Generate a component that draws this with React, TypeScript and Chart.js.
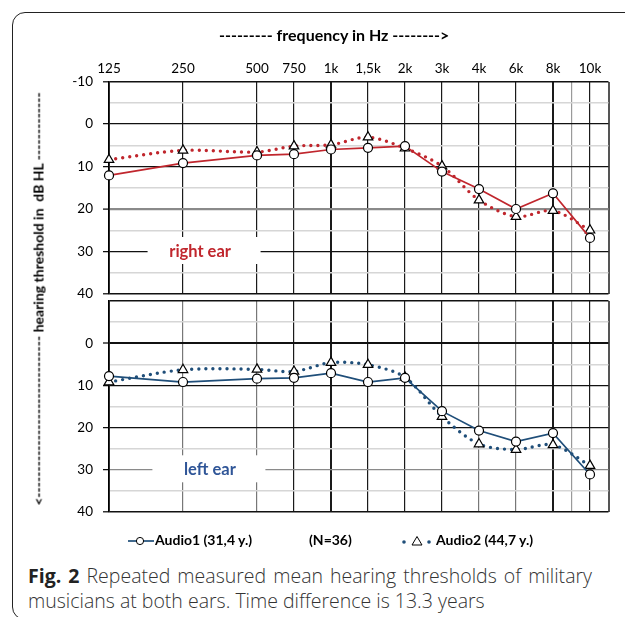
import React, { useEffect, useRef } from 'react';
import { Chart, registerables } from 'chart.js';

Chart.register(...registerables);

// ---- data ----
const freqLabels = ['125', '250', '500', '750', '1k', '1,5k', '2k', '3k', '4k', '6k', '8k', '10k'];
const freqPos = [0, 2, 4, 5, 6, 7, 8, 9, 10, 11, 12, 13];
const gridPos = [0, 2, 4, 5, 6, 7, 8, 9, 10, 11, 12, 12.5, 13, 13.5];
const rightAudio1 = [12.1, 9.2, 7.4, 7.1, 6.0, 5.6, 5.2, 11.2, 15.3, 20.0, 16.3, 26.8];
const rightAudio2 = [8.4, 6.2, 6.6, 5.2, 4.9, 3.1, 5.7, 9.9, 17.9, 21.8, 20.4, 25.0];
const leftAudio1 = [7.8, 9.2, 8.4, 8.2, 7.1, 9.2, 8.2, 16.1, 20.7, 23.3, 21.3, 31.1];
const leftAudio2 = [9.2, 6.3, 6.2, 6.7, 4.6, 5.1, 8.1, 17.4, 23.9, 25.2, 24.1, 29.0];
const yMin = -10;
const yMax = 40;
const yStep = 5;

const RED = '#c0262d';
const BLUE = '#1f4e79';
const LABEL_BLUE = '#2f5597';

const earLabelPlugin = {
  id: 'earLabel',
  afterDraw(chart: any, _args: any, opts: any) {
    const { ctx } = chart;
    const x = chart.scales.x;
    const y = chart.scales.y;
    const cx = x.getPixelForValue(opts.xValue);
    const cy = y.getPixelForValue(opts.yValue);
    ctx.save();
    ctx.fillStyle = '#fff';
    ctx.fillRect(cx - opts.boxW / 2, cy - opts.boxH / 2 - 1, opts.boxW, opts.boxH);
    ctx.fillStyle = opts.color;
    ctx.font = 'bold 16.5px Lato';
    ctx.textAlign = 'center';
    ctx.textBaseline = 'middle';
    ctx.fillText(opts.text, cx + opts.dx, cy);
    ctx.restore();
  },
};

function toPoints(vals: number[]) {
  return vals.map((v, i) => ({ x: freqPos[i], y: v }));
}

function zeroPad(s: any) {
  s.paddingTop = 0;
  s.paddingBottom = 0;
  s.paddingLeft = 0;
  s.paddingRight = 0;
}

function buildConfig(p: {
  a1: number[];
  a2: number[];
  color: string;
  showX: boolean;
  top: boolean;
  text: string;
  textColor: string;
  labelX: number;
  dx: number;
  pad: any;
  xH: number;
}): any {
  return {
    type: 'line',
    data: {
      datasets: [
        {
          label: 'Audio1',
          data: toPoints(p.a1),
          borderColor: p.color,
          borderWidth: 1.7,
          tension: 0,
          pointStyle: 'circle',
          pointRadius: 4.5,
          pointBackgroundColor: '#fff',
          pointBorderColor: '#000',
          pointBorderWidth: 1.2,
          clip: false,
        },
        {
          label: 'Audio2',
          data: toPoints(p.a2),
          borderColor: p.color,
          borderWidth: 3.4,
          borderDash: [0, 7],
          borderCapStyle: 'round',
          tension: 0.3,
          pointStyle: 'triangle',
          pointRadius: 5.5,
          pointBackgroundColor: '#fff',
          pointBorderColor: '#000',
          pointBorderWidth: 1.2,
          clip: false,
        },
      ],
    },
    options: {
      animation: false,
      responsive: false,
      events: [],
      layout: { padding: p.pad, autoPadding: false },
      plugins: {
        legend: { display: false },
        tooltip: { enabled: false },
        earLabel: { xValue: p.labelX, yValue: 30, boxW: 113, boxH: 27, text: p.text, color: p.textColor, dx: p.dx },
      },
      scales: {
        x: {
          type: 'linear',
          position: 'top',
          min: 0,
          max: 13.5,
          afterBuildTicks: (s: any) => {
            s.ticks = gridPos.map((v) => ({ value: v }));
          },
          afterFit: (s: any) => {
            s.height = p.xH;
            zeroPad(s);
          },
          ticks: {
            display: p.showX,
            autoSkip: false,
            maxRotation: 0,
            padding: 5,
            color: '#000',
            font: { size: 13.5, family: 'Lato' },
            callback: (v: number) => {
              const i = freqPos.indexOf(v);
              return i >= 0 ? freqLabels[i] : '';
            },
          },
          grid: {
            drawTicks: false,
            color: (c: any) => {
              const v = c.tick?.value;
              if (v === 12.5) return '#9a9a9a';
              if (v === 13.5) return '#555';
              if (!p.top && (v === 2 || v === 4 || v === 10 || v === 11)) return '#777';
              return '#1a1a1a';
            },
            lineWidth: (c: any) => {
              const v = c.tick?.value;
              if (v === 6 || v === 12 || v === 13.5) return 2;
              return 1.2;
            },
          },
          border: { display: false },
        },
        y: {
          type: 'linear',
          reverse: true,
          min: yMin,
          max: yMax,
          afterFit: (s: any) => {
            s.width = 109;
            zeroPad(s);
          },
          ticks: {
            stepSize: yStep,
            padding: 10,
            color: '#000',
            font: { size: 13.5, family: 'Lato' },
            callback: (v: number) => {
              if (v % 10 !== 0) return '';
              if (!p.top && v === yMin) return '';
              return String(v);
            },
          },
          grid: {
            tickLength: 6,
            tickWidth: 1.2,
            tickColor: (c: any) => {
              const v = c.tick?.value;
              if (v % 10 !== 0) return 'rgba(0,0,0,0)';
              if (!p.top && v === yMin) return 'rgba(0,0,0,0)';
              return '#000';
            },
            color: (c: any) => {
              const v = c.tick?.value;
              if (v % 10 !== 0) return '#d6d6d6';
              if (p.top && v === 20) return '#8a8a8a';
              if (!p.top && v === 30) return '#8a8a8a';
              return '#111';
            },
            lineWidth: (c: any) => {
              const v = c.tick?.value;
              if (v % 10 !== 0) return 1.5;
              if (p.top && v === 20) return 2.2;
              if (!p.top && v === 0) return 2;
              if (v === yMin || v === yMax) return 1.6;
              return 1.3;
            },
          },
          border: { display: true, color: '#000', width: 1.8 },
        },
      },
    },
    plugins: [earLabelPlugin],
  };
}

export default function App() {
  const topRef = useRef<HTMLCanvasElement>(null);
  const botRef = useRef<HTMLCanvasElement>(null);

  useEffect(() => {
    Chart.defaults.font.family = 'Lato';
    const c1 = new Chart(
      topRef.current as HTMLCanvasElement,
      buildConfig({
        a1: rightAudio1,
        a2: rightAudio2,
        color: RED,
        showX: true,
        top: true,
        text: 'right ear',
        textColor: RED,
        labelX: 2.57,
        dx: -4,
        pad: { left: 0, right: 16.5, top: 0, bottom: 6 },
        xH: 81.5,
      })
    );
    const c2 = new Chart(
      botRef.current as HTMLCanvasElement,
      buildConfig({
        a1: leftAudio1,
        a2: leftAudio2,
        color: BLUE,
        showX: false,
        top: false,
        text: 'left ear',
        textColor: LABEL_BLUE,
        labelX: 2.7,
        dx: 1,
        pad: { left: 0, right: 16.5, top: 5, bottom: 6 },
        xH: 0,
      })
    );
    return () => {
      c1.destroy();
      c2.destroy();
    };
  }, []);

  return (
    <div style={{ position: 'absolute', left: 0, top: 0, width: 625, height: 617, overflow: 'hidden', background: '#fff', fontFamily: 'Lato' }}>
      <div
        style={{
          position: 'absolute',
          left: 12,
          top: 12,
          width: 660,
          height: 606,
          border: '1.6px solid #222',
          borderRadius: 13,
        }}
      />
      <canvas ref={topRef} width={625} height={300} style={{ position: 'absolute', left: 0, top: 0, width: 625, height: 300 }} />
      <canvas ref={botRef} width={625} height={222} style={{ position: 'absolute', left: 0, top: 296, width: 625, height: 222 }} />
      <div
        style={{
          position: 'absolute',
          left: 219,
          top: 25,
          whiteSpace: 'nowrap',
          font: 'bold 16px Lato',
          color: '#000',
        }}
      >
        --------- frequency in Hz --------&gt;
      </div>
      <div
        style={{
          position: 'absolute',
          left: 38,
          top: 299,
          transform: 'translate(-50%, -50%) rotate(-90deg)',
          whiteSpace: 'pre',
          font: 'bold 14px Lato',
          color: '#000',
        }}
      >
        {'<' + '-'.repeat(31) + ' hearing threshold in  dB HL ' + '-'.repeat(13)}
      </div>
      <div style={{ position: 'absolute', left: 0, top: 531, width: 625, height: 18, font: 'bold 14px Lato', color: '#000' }}>
        <svg style={{ position: 'absolute', left: 127, top: 3 }} width={28} height={14}>
          <line x1={1} y1={7} x2={27} y2={7} stroke={BLUE} strokeWidth={1.7} />
          <circle cx={13} cy={7} r={3.6} fill="#fff" stroke="#000" strokeWidth={1} />
        </svg>
        <span style={{ position: 'absolute', left: 155, top: 0 }}>Audio1 (31,4 y.)</span>
        <span style={{ position: 'absolute', left: 309, top: 0 }}>(N=36)</span>
        <svg style={{ position: 'absolute', left: 400, top: 3 }} width={34} height={14}>
          <circle cx={4} cy={8} r={1.8} fill={BLUE} />
          <circle cx={29} cy={8} r={1.8} fill={BLUE} />
          <polygon points="17,2.5 22,11 12,11" fill="#fff" stroke="#000" strokeWidth={1} />
        </svg>
        <span style={{ position: 'absolute', left: 436, top: 0 }}>Audio2 (44,7 y.)</span>
      </div>
      <div
        style={{
          position: 'absolute',
          left: 28,
          top: 563,
          width: 564,
          font: '300 19.5px "Open Sans"',
          lineHeight: '25px',
          color: '#333',
          whiteSpace: 'nowrap',
        }}
      >
        <div style={{ textAlign: 'justify', textAlignLast: 'justify', whiteSpace: 'normal' } as any}>
          <b style={{ fontWeight: 700, color: '#222' }}>Fig. 2</b> Repeated measured mean hearing thresholds of military
        </div>
        <div>musicians at both ears. Time difference is 13.3 years</div>
      </div>
    </div>
  );
}
